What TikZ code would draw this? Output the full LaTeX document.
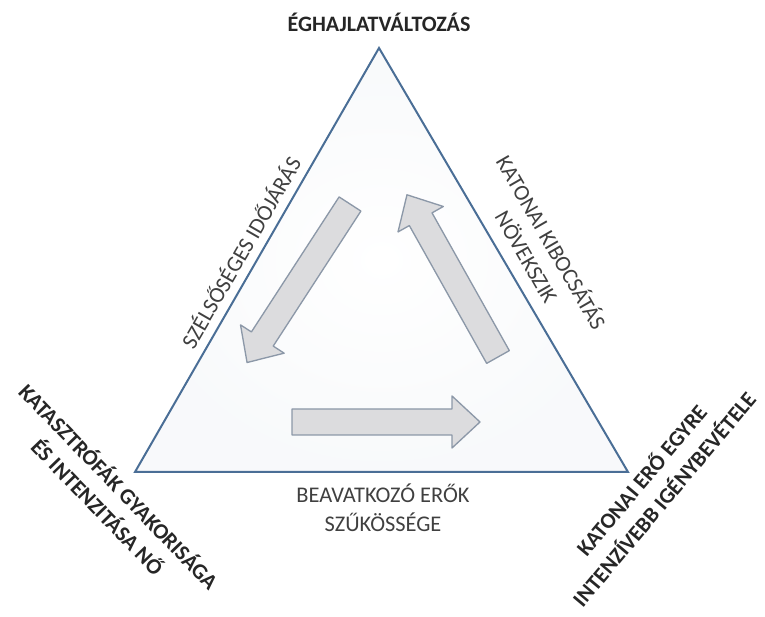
\documentclass[tikz,border=0pt]{standalone}
\usepackage{fontspec}
\setmainfont{Carlito}
\definecolor{triblue}{RGB}{74,110,150}
\definecolor{arrowgray}{RGB}{220,220,222}
\definecolor{arrowline}{RGB}{140,152,168}
\definecolor{labelgray}{RGB}{64,64,64}
\begin{document}
\begin{tikzpicture}[x=0.75pt,y=0.75pt,
  side/.style={text=labelgray, font=\fontsize{16.8}{21.5}\selectfont, align=center},
  corner/.style={text=black!85, font=\fontsize{16.5}{22}\selectfont\bfseries, align=center},
  blockarrow/.style={fill=arrowgray, draw=arrowline, line width=1pt, line join=round}]
\useasboundingbox (0,0) rectangle (765,617);
\coordinate (apex) at (379,569);
\coordinate (bl) at (135,145);
\coordinate (br) at (628,145);
\shade [inner color=white, outer color=triblue!4] (apex) -- (bl) -- (br) -- cycle;
\draw [line width=1.5pt, triblue] (apex) -- (bl) -- (br) -- cycle;
% block arrows: tail x/y, angle, length
\foreach \x/\y/\a/\l in {350/413/-123/189, 498/260/119.3/186, 292/195/0/188}
  \draw [blockarrow, shift={(\x,\y)}, rotate=\a] (0,-13) -- ({\l-28},-13) -- ({\l-28},-26)
    -- (\l,0) -- ({\l-28},26) -- ({\l-28},13) -- (0,13) -- cycle;
\node [corner] (climate) at (379,595) {ÉGHAJLATVÁLTOZÁS};
\node [side, rotate=60] (weather) at (240,365) {SZÉLSŐSÉGES IDŐJÁRÁS};
\node [side, rotate=-60] (emission) at (540,368) {KATONAI KIBOCSÁTÁS\\NÖVEKSZIK};
\node [corner, rotate=-46] (disaster) at (109,121) {KATASZTRÓFÁK GYAKORISÁGA\\ÉS INTENZITÁSA NŐ};
\node [corner, rotate=50] (force) at (652,128) {KATONAI ERŐ EGYRE\\INTENZÍVEBB IGÉNYBEVÉTELE};
\node [side] (shortage) at (383,109) {BEAVATKOZÓ ERŐK\\SZŰKÖSSÉGE};
\end{tikzpicture}
\end{document}
